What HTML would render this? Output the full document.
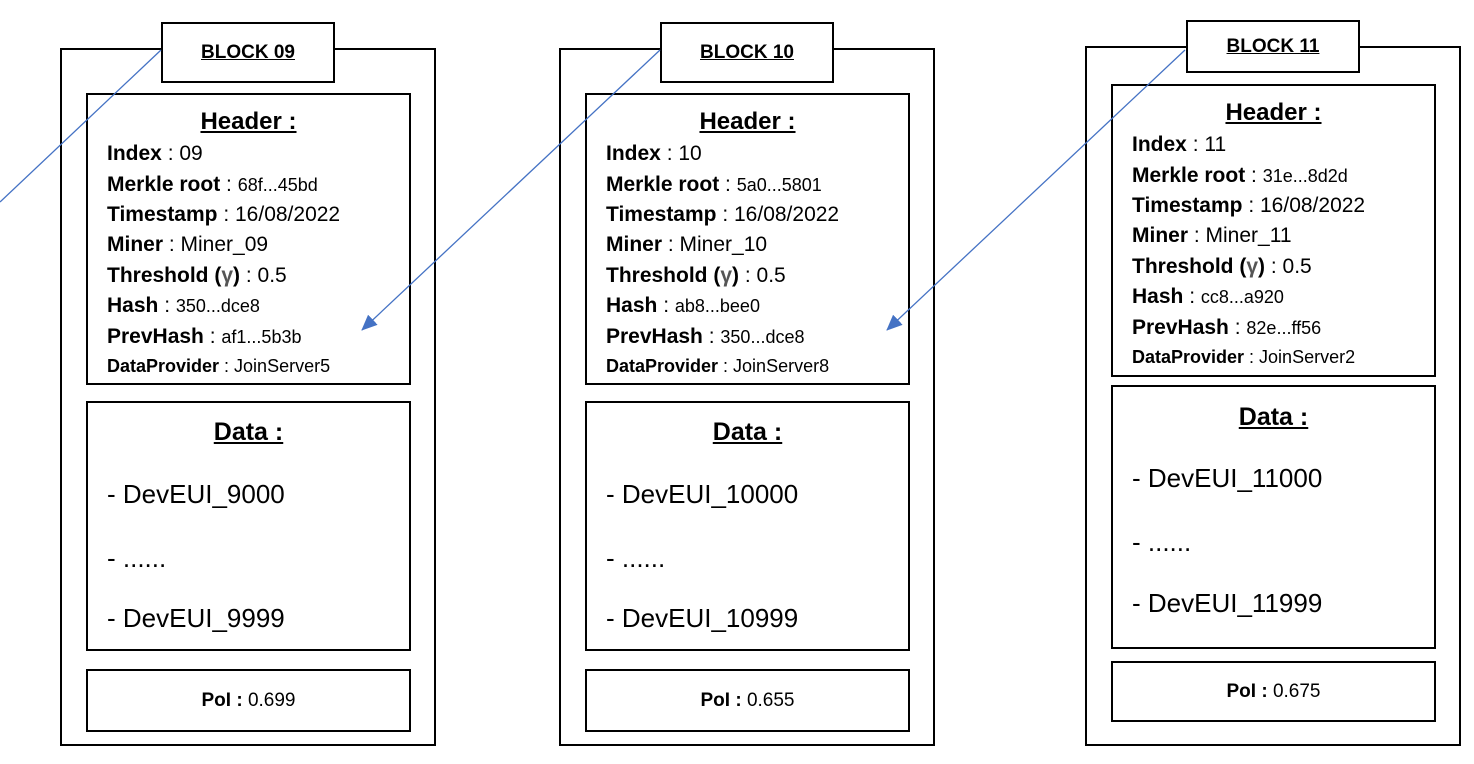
<!DOCTYPE html>
<html><head><meta charset="utf-8">
<style>
body{margin:0;width:1474px;height:764px;background:#fff;position:relative;overflow:hidden;font-family:"Liberation Sans",sans-serif;color:#000}
.box{position:absolute;border:2px solid #000;box-sizing:border-box;background:#fff}
.t{position:absolute;white-space:nowrap;line-height:24px;height:24px}
.t b{font-weight:bold}
.sm{font-size:18px}
svg{position:absolute;left:0;top:0}
</style></head>
<body>
<svg width="1474" height="764" id="arrows">
<defs><marker id="ah" markerWidth="20" markerHeight="20" refX="15" refY="7" orient="auto" markerUnits="userSpaceOnUse"><path d="M0,0 L16,7 L0,14 z" fill="#4472c4"/></marker></defs>
</svg>
<script>
const blocks=[
 {x:60,dy:0,title:"BLOCK 09",idx:"09",merkle:"68f...45bd",ts:"16/08/2022",miner:"Miner_09",hash:"350...dce8",prev:"af1...5b3b",dp:"JoinServer5",d1:"DevEUI_9000",d2:"DevEUI_9999",poi:"0.699"},
 {x:559,dy:0,title:"BLOCK 10",idx:"10",merkle:"5a0...5801",ts:"16/08/2022",miner:"Miner_10",hash:"ab8...bee0",prev:"350...dce8",dp:"JoinServer8",d1:"DevEUI_10000",d2:"DevEUI_10999",poi:"0.655"},
 {x:1085,dy:-9,title:"BLOCK 11",idx:"11",merkle:"31e...8d2d",ts:"16/08/2022",miner:"Miner_11",hash:"cc8...a920",prev:"82e...ff56",dp:"JoinServer2",d1:"DevEUI_11000",d2:"DevEUI_11999",poi:"0.675"}
];
const root=document.body;
function mk(cls,l,t,w,h,html){const d=document.createElement('div');d.className=cls;d.style.left=l+'px';d.style.top=t+'px';if(w)d.style.width=w+'px';if(h)d.style.height=h+'px';if(html)d.innerHTML=html;root.appendChild(d);return d;}
blocks.forEach((b,i)=>{
 const x=b.x,dy=b.dy;
 let e=mk('box',x,48+(i==2?-2:0),376,698+(i==2?2:0));
 
 
 const tt=(i==2)?20:22, th=(i==2)?53:61;
 e=mk('box',x+101,tt,174,th,'<div style="text-align:center;font-weight:bold;font-size:19px;text-decoration:underline;line-height:'+(th-4)+'px">'+b.title+'</div>');
 
 
 const hb=(i==2)?84:93, he=(i==2)?377:385;
 e=mk('box',x+26,hb,325,he-hb);
 
 
 e=mk('t',x+26,122+dy-12,325,0,'<div style="text-align:center;font-weight:bold;font-size:24px;text-decoration:underline">Header :</div>');
 
 
 const rows=[
  ['Index',' : '+b.idx,''],['Merkle root',' : <span class="sm">'+b.merkle+'</span>',''],['Timestamp',' : '+b.ts,''],
  ['Miner',' : '+b.miner,''],['Threshold (<span style="color:#555">γ</span>)',' : 0.5',''],['Hash',' : <span class="sm">'+b.hash+'</span>',''],
  ['PrevHash',' : <span class="sm">'+b.prev+'</span>',''],['DataProvider',' : '+b.dp,'sm']];
 const ys=[154,185,215,245,276,306,337,366];
 rows.forEach((r,k)=>{
  const fs=r[2]=='sm'?18:21;
  e=mk('t',x+47,ys[k]+dy-12,0,0,'<span style="font-size:'+fs+'px"><b>'+r[0]+'</b>'+r[1]+'</span>');
  
  
 });
 const db=(i==2)?385:401, de=(i==2)?649:651;
 e=mk('box',x+26,db,325,de-db);
 
 
 const dys=(i==2)?[417,478,542,603]:[432,494,558,618];
 e=mk('t',x+26,dys[0]-14,325,0,'<div style="text-align:center;font-weight:bold;font-size:25px;line-height:28px;text-decoration:underline">Data :</div>');
 
 
 [ '- '+b.d1,'- ......','- '+b.d2].forEach((s,k)=>{
  e=mk('t',x+47,dys[k+1]-14,0,0,'<span style="font-size:26px;line-height:28px">'+s+'</span>');
  
  
 });
 const pb=(i==2)?661:669, pe=(i==2)?722:732;
 e=mk('box',x+26,pb,325,pe-pb,'<div style="text-align:center;font-size:19px;line-height:'+(pe-pb-4)+'px"><b>PoI :</b> '+b.poi+'</div>');
 
 
});
const svg=document.getElementById('arrows');
const lines=[[0,202,161,50,false],[660,50,362,330,true],[1185,50,887,330,true]];
lines.forEach(l=>{
 const ln=document.createElementNS('http://www.w3.org/2000/svg','line');
 ln.setAttribute('x1',l[0]);ln.setAttribute('y1',l[1]);ln.setAttribute('x2',l[2]);ln.setAttribute('y2',l[3]);
 ln.setAttribute('stroke','#4472c4');ln.setAttribute('stroke-width','1.3');
 if(l[4])ln.setAttribute('marker-end','url(#ah)');
 
 
 svg.appendChild(ln);
});
root.appendChild(svg);
</script>
</body></html>
